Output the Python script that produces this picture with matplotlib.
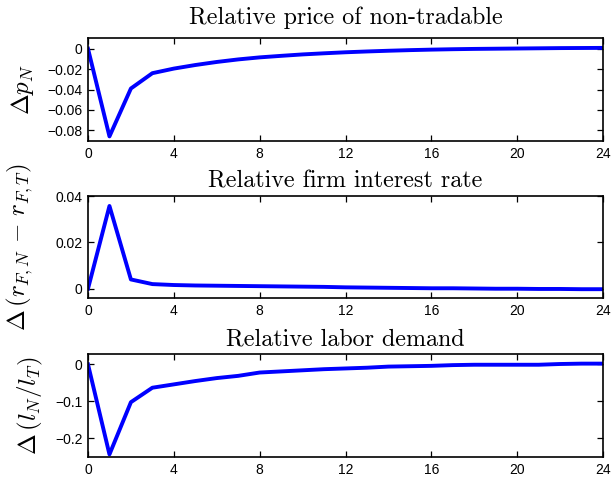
import matplotlib
matplotlib.use("Agg")
import matplotlib.pyplot as plt
import numpy as np

plt.rcParams['mathtext.fontset'] = 'cm'
plt.rcParams['font.family'] = ['Liberation Sans', 'DejaVu Sans']

periods = np.arange(0, 25)

# relative price of non-tradable
dp_N = [0.0, -0.086, -0.039, -0.024, -0.0195, -0.016, -0.013, -0.0105, -0.0085,
        -0.007, -0.0056, -0.0045, -0.0035, -0.0027, -0.002, -0.0014, -0.0009,
        -0.0005, -0.0002, 0.0, 0.0002, 0.0004, 0.0006, 0.0007, 0.0008]

# relative firm interest rate
dr_F = [0.0, 0.0357, 0.004, 0.002, 0.0016, 0.0014, 0.0013, 0.0012, 0.0011,
        0.001, 0.0009, 0.0008, 0.0006, 0.0005, 0.0004, 0.0003, 0.0002,
        0.0002, 0.0001, 0.0, 0.0, -0.0001, -0.0001, -0.0002, -0.0002]

# relative labor demand
dl = [0.0, -0.243, -0.102, -0.063, -0.054, -0.045, -0.037, -0.031, -0.022,
      -0.019, -0.016, -0.013, -0.011, -0.009, -0.006, -0.005, -0.004,
      -0.002, -0.001, -0.001, -0.001, -0.001, 0.001, 0.002, 0.002]

titles = ['Relative price of non-tradable', 'Relative firm interest rate',
          'Relative labor demand']
ylabels = [r'$\Delta p_N$', r'$\Delta\,(r_{F,N}\,-\,r_{F,T})$', r'$\Delta\,(l_N/l_T)$']
series = [dp_N, dr_F, dl]
ylims = [(-0.0905, 0.0105), (-0.004, 0.04), (-0.25, 0.028)]
yticks = [[-0.08, -0.06, -0.04, -0.02, 0],
          [0, 0.02, 0.04],
          [-0.2, -0.1, 0]]
yticklabels = [['\u22120.08', '\u22120.06', '\u22120.04', '\u22120.02', '0'],
               ['0', '0.02', '0.04'],
               ['\u22120.2', '\u22120.1', '0']]

fig = plt.figure(figsize=(6.15, 4.83), dpi=100)
W, H = 615.0, 483.0
boxes = [(38, 141), (196, 298), (354, 457)]
label_x = [22, 20, 30]
title_pad = [10, 6, 6]
for i in range(3):
    top, bot = boxes[i]
    ax = fig.add_axes([88 / W, 1 - bot / H, (603 - 88) / W, (bot - top) / H])
    ax.plot(periods, series[i], color=(0, 0, 1), linewidth=2.8)
    ax.set_xlim(0, 24)
    ax.set_ylim(*ylims[i])
    ax.set_xticks([0, 4, 8, 12, 16, 20, 24])
    ax.set_yticks(yticks[i])
    ax.set_yticklabels(yticklabels[i])
    ax.tick_params(direction='in', top=True, right=True, labelsize=10,
                   length=4, width=0.9, pad=4)
    for s in ax.spines.values():
        s.set_linewidth(1.2)
    ax.set_title(titles[i], fontfamily='cmr10', fontsize=17.3, pad=title_pad[i])
    # y label placed by hand, centred on the axes like the MATLAB figure
    fig.text(label_x[i] / W, 1 - (top + bot) / 2 / H, ylabels[i], fontsize=18,
             rotation=90, ha='center', va='center')

fig.savefig('out.png', dpi=100)
